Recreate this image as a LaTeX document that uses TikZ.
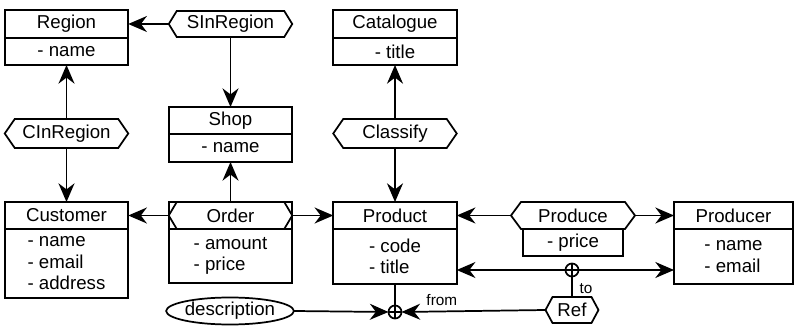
\documentclass[tikz,border=0pt]{standalone}
\usepackage{fontspec}
\setmainfont{Liberation Sans}
\usetikzlibrary{arrows.meta,shapes.geometric}
\newcommand\hexa[2]{%
  \draw[ln] (#1.west) -- ([xshift=#2*0.75pt]#1.north west) -- ([xshift=-#2*0.75pt]#1.north east)
    -- (#1.east) -- ([xshift=-#2*0.75pt]#1.south east) -- ([xshift=#2*0.75pt]#1.south west) -- cycle;}
\tikzset{
  ln/.style={line width=1.3pt, line join=miter},
  arr/.style={ln, -{Stealth[length=14pt,width=12pt]}},
  ent/.style={draw, ln, rectangle, inner sep=0pt, outer sep=0pt, minimum width=123.5*0.75pt, minimum height=27*0.75pt,
    font=\fontsize{14}{16.1}\selectfont, align=left},
  hexn/.style={rectangle, inner sep=0pt, outer sep=0pt, minimum width=123.5*0.75pt, minimum height=28*0.75pt,
    font=\fontsize{14}{16.1}\selectfont},
  oplus/.style={circle, draw, ln, inner sep=0pt, outer sep=0pt, minimum size=13*0.75pt,
    path picture={\draw[ln] (path picture bounding box.north) -- (path picture bounding box.south)
      (path picture bounding box.west) -- (path picture bounding box.east);}},
  lbl/.style={inner sep=0pt, font=\fontsize{11.5}{13}\selectfont},
}
\begin{document}
\begin{tikzpicture}[x=0.75pt, y=-0.75pt]
\useasboundingbox (0,0) rectangle (794,328);
% entities
\node[ent, minimum height=28*0.75pt] (regionH) at (66.5,24) {Region};
\node[ent, anchor=north] (regionB) at (regionH.south) {- name};
\node[ent, minimum height=28*0.75pt] (catH) at (395,24) {Catalogue};
\node[ent, anchor=north] (catB) at (catH.south) {- title};
\node[ent] (shopH) at (230.5,120.5) {Shop};
\node[ent, anchor=north, minimum height=28*0.75pt] (shopB) at (shopH.south) {- name};
\node[ent] (custH) at (66.5,215.5) {Customer};
\node[ent, anchor=north, minimum height=69*0.75pt] (custB) at (custH.south) {- name\\- email\\- address};
\node[ent] (orderH) at (230.5,215.5) {Order};
\node[ent, anchor=north, minimum height=54*0.75pt] (orderB) at (orderH.south) {- amount\\- price};
\node[ent] (prodH) at (395,215.5) {Product};
\node[ent, anchor=north, minimum height=55*0.75pt] (prodB) at (prodH.south) {- code\\- title};
\node[ent, minimum width=119*0.75pt] (producerH) at (733.5,215.5) {Producer};
\node[ent, anchor=north, minimum width=119*0.75pt, minimum height=55*0.75pt] (producerB) at (producerH.south) {- name\\- email};
% relationships
\node[hexn, minimum height=26*0.75pt] (sinr) at (230.5,24) {SInRegion};
\hexa{sinr}{8}
\node[hexn, minimum height=29*0.75pt] (cinr) at (66.5,133.5) {CInRegion};
\hexa{cinr}{10}
\node[hexn, minimum height=29*0.75pt] (classify) at (395,133.5) {Classify};
\hexa{classify}{10}
\node[hexn, minimum width=124*0.75pt, minimum height=27*0.75pt] (produce) at (573,215.5) {Produce};
\hexa{produce}{10}
\node[ent, anchor=north, minimum width=100*0.75pt] (produceB) at (produce.south) {- price};
\hexa{orderH}{8}
\node[hexn, minimum width=53*0.75pt, minimum height=26*0.75pt] (ref) at (572,310) {Ref};
\hexa{ref}{7}
\node[draw, ln, ellipse, inner sep=0pt, outer sep=0pt, minimum width=110*0.75pt, minimum height=27*0.75pt,
  font=\fontsize{14}{16.1}\selectfont] (desc) at (230,311) {description};
\node[oplus] (plus1) at (572,270) {};
\node[oplus] (plus2) at (395,312) {};
% connectors
\draw[arr] (sinr.west) -- (regionH.east);
\draw[arr] (sinr.south) -- (shopH.north);
\draw[arr] (cinr.north) -- (regionB.south);
\draw[arr] (cinr.south) -- (custH.north);
\draw[arr] (classify.north) -- (catB.south);
\draw[arr] (classify.south) -- (prodH.north);
\draw[arr] (orderH.north) -- (shopB.south);
\draw[arr] (orderH.west) -- (custH.east);
\draw[arr] (orderH.east) -- (prodH.west);
\draw[arr] (produce.west) -- (prodH.east);
\draw[arr] (produce.east) -- (producerH.west);
\draw[arr] (plus1.west) -- (prodB.east |- plus1.west);
\draw[arr] (plus1.east) -- (producerB.west |- plus1.east);
\draw[ln] (plus1.south) -- node[lbl, pos=0.6, right=5pt] {to} (ref.north);
\draw[ln] (prodB.south) -- (plus2.north);
\draw[arr] (desc.east) -- (plus2.west);
\draw[arr] (ref.west) -- node[lbl, pos=0.72, above=3.75pt] {from} (plus2.east);
\end{tikzpicture}
\end{document}
